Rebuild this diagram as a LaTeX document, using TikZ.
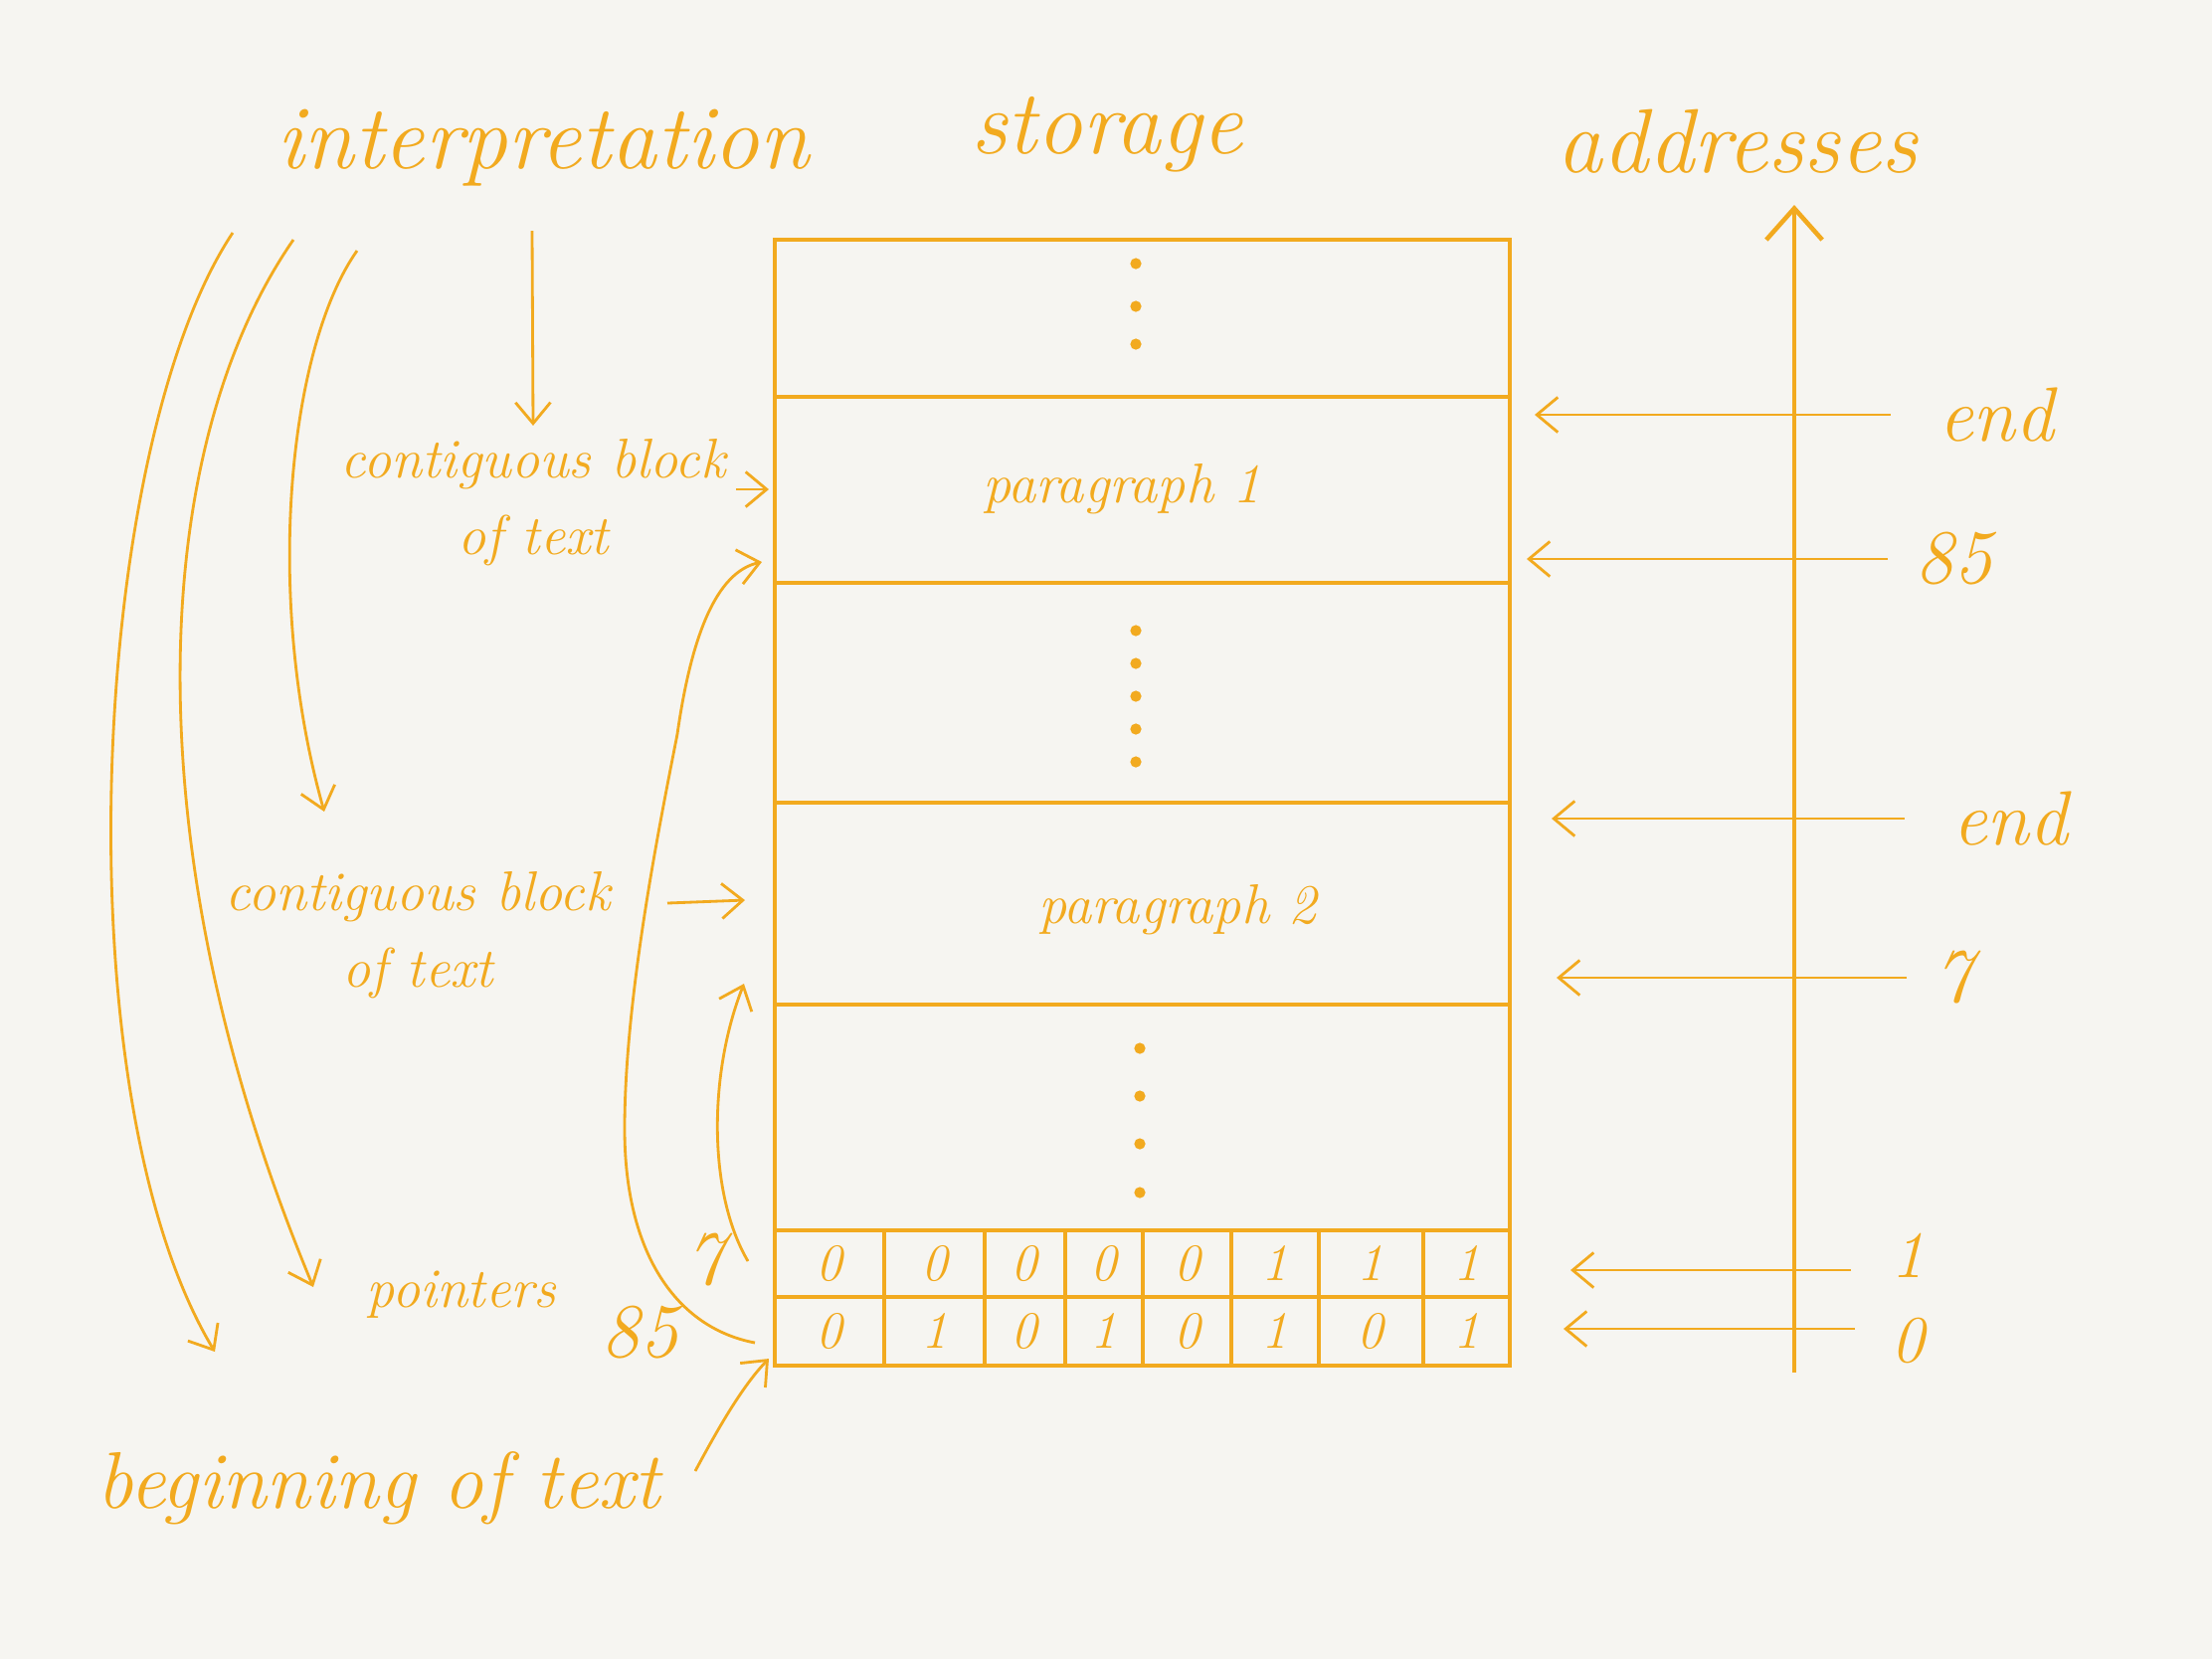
\documentclass[tikz,border=0pt]{standalone}
\usepackage{tikz}
\usetikzlibrary{arrows.meta}
\definecolor{penline}{HTML}{F2AA1F}
\definecolor{paper}{HTML}{F6F5F1}

\begin{document}
\begin{tikzpicture}[x=0.01cm,y=-0.01cm,line width=0.8pt,penline,
  every node/.style={text=penline,font=\itshape},
  title/.style={font=\itshape\fontsize{26}{30}\selectfont},
  note/.style={font=\itshape\fontsize{16}{22}\selectfont,align=center},
  addr/.style={font=\itshape\fontsize{22}{24}\selectfont},
  bit/.style={font=\itshape\fontsize{15}{16}\selectfont},
  wall/.style={line width=1.3pt},
  ptr/.style={-{Straight Barb[length=6pt,width=10pt]},line width=0.8pt}]
\fill[paper] (0,0) rectangle (2224,1668);
\useasboundingbox (0,0) rectangle (2224,1668);
\node[title] (interp) at (546,149){interpretation};
\node[title] (storage) at (1113,135){storage};
\node[title] (addrs) at (1747,142){addresses};
% storage cells
\draw[wall] (779,241) rectangle (1518,1373);
\foreach \y in {399,586,807,1010,1237,1304} \draw[wall] (779,\y) -- (1518,\y);
\foreach \x in {889,990,1071,1149,1238,1326,1431} \draw[wall] (\x,1237) -- (\x,1373);
\foreach \y in {265,308,346} \fill (1142,\y) circle[radius=1.6pt];
\foreach \y in {634,667,700,733,766} \fill (1142,\y) circle[radius=1.6pt];
\foreach \y in {1054,1102,1150,1199} \fill (1146,\y) circle[radius=1.6pt];
\node[note] (para1) at (1128,492){paragraph 1};
\node[note] (para2) at (1184,915){paragraph 2};
\foreach \x/\hi/\lo [count=\i] in {834/0/0,940/0/1,1030/0/0,1110/0/1,1194/0/0,1282/1/1,1378/1/0,1475/1/1}{
  \node[bit] (hi\i) at (\x,1270){\hi};
  \node[bit] (lo\i) at (\x,1338){\lo};
}
% address axis
\coordinate (axisbot) at (1804,1380);
\coordinate (axistop) at (1804,206);
\draw[wall,-{Straight Barb[length=9pt,width=16pt]}] (axisbot) -- (axistop);
\node[addr] (endA) at (2007,417){end};
\node[addr] (n85) at (1964,562){85};
\node[addr] (endB) at (2021,823){end};
\node[addr] (n7) at (1964,983){7};
\node[addr,font=\itshape\fontsize{19}{20}\selectfont] (n1) at (1918,1262){1};
\node[addr,font=\itshape\fontsize{19}{20}\selectfont] (n0) at (1918,1348){0};
\coordinate (tEndA) at (1543,417);
\coordinate (t85) at (1535,562);
\coordinate (tEndB) at (1560,823);
\coordinate (t7) at (1565,983);
\coordinate (s1) at (1861,1277);
\coordinate (t1) at (1579,1277);
\coordinate (s0) at (1865,1336);
\coordinate (t0) at (1572,1336);
\draw[ptr,shorten <=10pt] (endA.west) -- (endA.west -| tEndA);
\draw[ptr,shorten <=4pt] (n85.west) -- (n85.west -| t85);
\draw[ptr,shorten <=10pt] (endB.west) -- (endB.west -| tEndB);
\draw[ptr,shorten <=4pt] (n7.west) -- (n7.west -| t7);
\draw[ptr] (s1) -- (t1);
\draw[ptr] (s0) -- (t0);
% interpretation side
\node[note] (block1) at (536,505){contiguous block\\of text};
\node[note] (block2) at (420,940){contiguous block\\of text};
\node[note] (pointers) at (464,1302){pointers};
\node[note,font=\itshape\fontsize{23}{26}\selectfont] (begin) at (381,1496){beginning of text};
\node[addr] (p7) at (709,1267){7};
\node[addr] (p85) at (643,1340){85};
\coordinate (i1) at (535,232);
\coordinate (i2) at (359,252);
\coordinate (i3) at (295,241);
\coordinate (i4) at (234,234);
\coordinate (b2top) at (326,816);
\coordinate (ptrtop) at (315,1294);
\coordinate (begtop) at (216,1359);
\draw[ptr] (i1) -- (block1.north);
\draw[ptr] (i2) .. controls (290,350) and (265,600) .. (b2top);
\draw[ptr] (i3) .. controls (150,450) and (130,850) .. (ptrtop);
\draw[ptr] (i4) .. controls (90,450) and (60,1100) .. (begtop);
\coordinate (b1a) at (740,492);
\coordinate (b1b) at (773,492);
\coordinate (b2a) at (671,908);
\coordinate (b2b) at (749,905);
\draw[ptr] (b1a) -- (b1b);
\draw[ptr] (b2a) -- (b2b);
% pointers into storage
\coordinate (s7) at (752,1268);
\coordinate (e7) at (748,989);
\coordinate (s85) at (759,1350);
\coordinate (e85) at (766,565);
\coordinate (sbeg) at (699,1479);
\coordinate (ebeg) at (773,1366);
\draw[ptr] (s7) .. controls (712,1200) and (712,1080) .. (e7);
\draw[ptr] (s85) .. controls (680,1335) and (628,1260) .. (628,1135)
  .. controls (628,1000) and (665,820) .. (681,738)
  .. controls (695,640) and (720,575) .. (e85);
\draw[ptr] (sbeg) .. controls (720,1440) and (745,1395) .. (ebeg);
\end{tikzpicture}
\end{document}
